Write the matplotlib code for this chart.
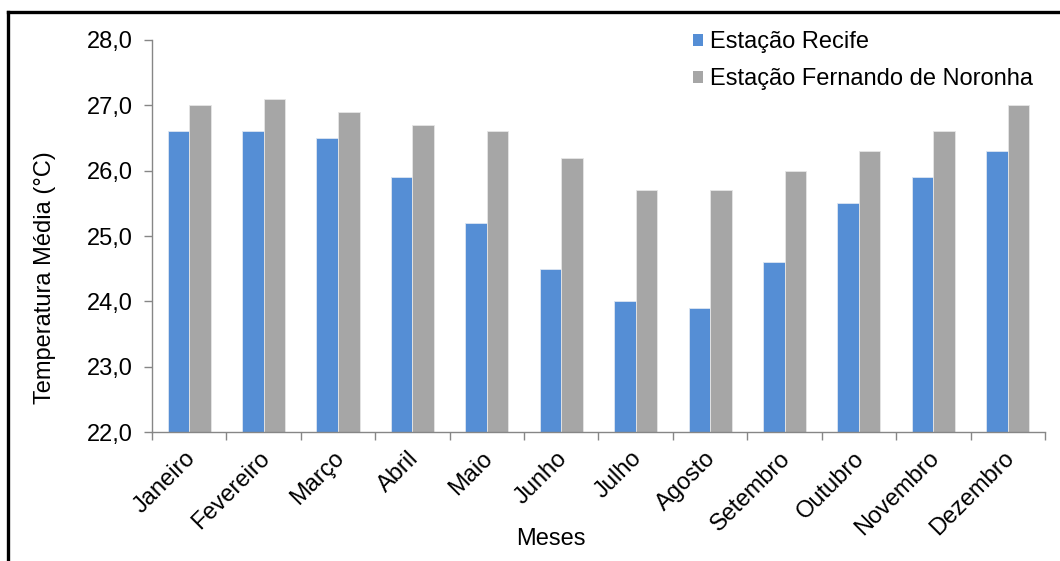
import matplotlib.pyplot as plt
import numpy as np
from matplotlib.lines import Line2D
from matplotlib.patches import Patch
from matplotlib.ticker import FuncFormatter

plt.rcParams["font.family"] = ["Liberation Sans", "DejaVu Sans"]

meses = ["Janeiro", "Fevereiro", "Março", "Abril", "Maio", "Junho",
         "Julho", "Agosto", "Setembro", "Outubro", "Novembro", "Dezembro"]
recife = [26.6, 26.6, 26.5, 25.9, 25.2, 24.5, 24.0, 23.9, 24.6, 25.5, 25.9, 26.3]
noronha = [27.0, 27.1, 26.9, 26.7, 26.6, 26.2, 25.7, 25.7, 26.0, 26.3, 26.6, 27.0]
series_names = ["Estação Recife", "Estação Fernando de Noronha"]

BLUE = "#558ED5"
GRAY = "#A6A6A6"
AXIS = "#868686"
FS = 17

fig = plt.figure(figsize=(10.6, 5.61), dpi=100)
ax = fig.add_axes([0.1434, 0.2299, 0.8424, 0.6988])

x = np.arange(len(meses))
w = 0.29
base = 22.0
ax.bar(x - w / 2, np.array(recife) - base, w, bottom=base, color=BLUE,
       edgecolor="#dde6f2", linewidth=0.6)
ax.bar(x + w / 2, np.array(noronha) - base, w, bottom=base, color=GRAY,
       edgecolor="#e6e6e6", linewidth=0.6)

ax.set_xlim(-0.5, len(meses) - 0.5)
ax.set_ylim(22.0, 28.0)
ax.set_yticks(np.arange(22.0, 28.01, 1.0))
ax.yaxis.set_major_formatter(FuncFormatter(lambda v, _: f"{v:.1f}".replace(".", ",")))

# category boundaries carry the x ticks; the rotated names hang from
# invisible minor ticks set a little left of each centre
ax.set_xticks(np.arange(-0.5, len(meses)), minor=False)
ax.set_xticklabels([])
ax.set_xticks(x - 0.07, minor=True)
ax.set_xticklabels(meses, minor=True, rotation=45, ha="right",
                   rotation_mode="anchor", fontsize=FS)
ax.tick_params(axis="x", which="minor", length=0, pad=11)
ax.tick_params(axis="x", which="major", length=6, color=AXIS, width=1)
ax.tick_params(axis="y", length=6, color=AXIS, width=1, labelsize=FS, pad=8)

for side in ("top", "right"):
    ax.spines[side].set_visible(False)
for side in ("left", "bottom"):
    ax.spines[side].set_color(AXIS)
    ax.spines[side].set_linewidth(1)

ax.set_xlabel("Meses", fontsize=FS)
ax.xaxis.set_label_coords(0.447, -0.245)
ax.set_ylabel("Temperatura Média (°C)", fontsize=FS)
ax.yaxis.set_label_coords(-0.108, 0.394)

handles = [Patch(facecolor=BLUE, edgecolor="none"), Patch(facecolor=GRAY, edgecolor="none")]
fig.legend(handles, series_names, loc="upper left", bbox_to_anchor=(0.6538, 0.944),
           frameon=False, fontsize=FS, handlelength=0.42, handleheight=0.42,
           handletextpad=0.3, labelspacing=0.62, borderpad=0, borderaxespad=0)

# outer frame, only top and left edges fall inside the canvas
fig.add_artist(Line2D([0.0075, 1.0], [0.9786, 0.9786], transform=fig.transFigure,
                      color="black", linewidth=2.4, solid_capstyle="projecting"))
fig.add_artist(Line2D([0.0075, 0.0075], [0.0, 0.9786], transform=fig.transFigure,
                      color="black", linewidth=2.4, solid_capstyle="projecting"))

fig.savefig("out.png", dpi=100)
